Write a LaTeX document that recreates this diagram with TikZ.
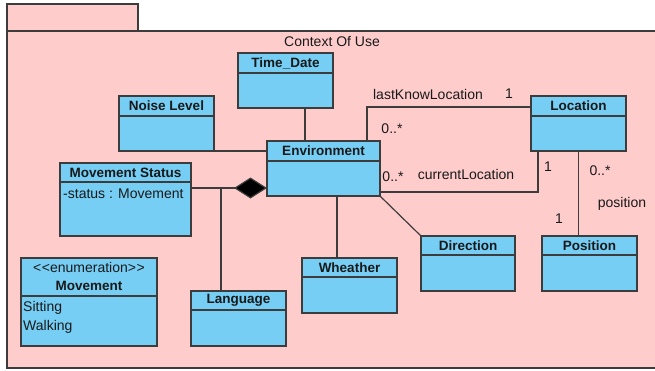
\documentclass[tikz,border=0pt]{standalone}
\usepackage{fontspec}
\setmainfont{Liberation Sans}
\usetikzlibrary{arrows.meta,calc}
\definecolor{pkgpink}{RGB}{255,204,204}
\definecolor{clsblue}{RGB}{118,206,245}
\definecolor{linegray}{RGB}{60,60,60}
\definecolor{txt}{RGB}{25,25,25}
\tikzset{
  pkgbox/.style={draw=linegray, line width=1.2pt, fill=pkgpink, inner sep=0pt, outer sep=0pt, anchor=north west},
  classbox/.style={draw=linegray, line width=1.2pt, fill=clsblue, inner sep=0pt, outer sep=0pt, anchor=north west},
  sepline/.style={draw=linegray, line width=1.2pt},
  ctitle/.style={font=\fontsize{13.5}{15}\selectfont\bfseries, text=txt, inner sep=0pt},
  ctext/.style={font=\fontsize{14}{16}\selectfont, text=txt, inner sep=0pt},
  conn/.style={draw=linegray, line width=1.2pt},
  lbl/.style={font=\fontsize{14}{16}\selectfont, text=txt, inner sep=0pt},
}
\newcommand\umlclass[7]{%
  \node[classbox, minimum width=#4pt, minimum height=#5pt] (#1) at (#2,#3) {};
  \draw[sepline] ($(#1.north west)+(0,#6)$) -- ($(#1.north east)+(0,#6)$);
  \node[ctitle] (#1-title) at ($(#1.north)+(0,#6/2)$) {#7};
}
\begin{document}
\begin{tikzpicture}[x=1pt,y=-1pt]
\useasboundingbox (0,0) rectangle (655,370);
\clip (0,0) rectangle (655,370);
% package
\node[pkgbox, minimum width=131pt, minimum height=27pt] (pkgtab) at (7,4) {};
\node[pkgbox, minimum width=655pt, minimum height=337pt] (pkgbody) at (7,31) {};
\node[lbl] (pkgname) at (332,41) {Context Of Use};
% classes
\umlclass{TD}{238}{53}{95}{55}{20}{Time\_Date}
\umlclass{NL}{119}{96}{95}{55}{20}{Noise Level}
\umlclass{Env}{267}{141}{113}{55}{20}{Environment}
\umlclass{MS}{60}{163}{131}{73}{19}{Movement Status}
\node[ctext, anchor=west] (MS-attr) at (63,194) {-status : Movement};
\umlclass{Lang}{191}{291}{95}{55}{19}{Language}
\umlclass{Wh}{302}{258}{95}{55}{19}{Wheather}
\umlclass{Dir}{421}{236}{94}{55}{19}{Direction}
\umlclass{Loc}{531}{96}{95}{55}{20}{Location}
\umlclass{Pos}{542}{236}{95}{55}{19}{Position}
% enumeration
\node[classbox, minimum width=136pt, minimum height=88pt] (Mv) at (21,258) {};
\draw[sepline] ($(Mv.north west)+(0,38)$) -- ($(Mv.north east)+(0,38)$);
\node[ctext] (Mv-st) at ($(Mv.north)+(0,9)$) {<\kern0.5pt<enumeration>\kern0.5pt>};
\node[ctitle] (Mv-title) at ($(Mv.north)+(0,28)$) {Movement};
\node[ctext, anchor=west] (Mv-a1) at (23,308) {Sitting};
\node[ctext, anchor=west] (Mv-a2) at (23,327) {Walking};
% connectors
\draw[conn] (NL.south east) -- (NL.south east -| Env.west);
\coordinate (tdbot) at ($(TD.south west)+(67,0)$);
\draw[conn] (tdbot) -- (tdbot |- Env.north);
\coordinate (cmpE) at ($(Env.south west)+(0,-8)$);
\draw[conn, {Diamond[length=33pt,width=21pt,fill=black]}-] (cmpE) -- (cmpE -| MS.east);
\coordinate (langtop) at ($(Lang.north west)+(30,0)$);
\draw[conn] (langtop |- cmpE) -- (langtop);
\coordinate (whtop) at ($(Wh.north west)+(35,0)$);
\draw[conn] (whtop |- Env.south) -- (whtop);
\draw[conn] (Env.south east) -- (Dir.north west);
\coordinate (lkE) at ($(Env.north west)+(100,0)$);
\coordinate (lkL) at ($(Loc.north west)+(0,11)$);
\draw[conn] (lkE) |- (lkL);
\coordinate (clE) at ($(Env.south east)+(0,-4)$);
\coordinate (clL) at ($(Loc.south west)+(7,0)$);
\draw[conn] (clE) -| (clL);
\draw[conn] (Loc.south) -- (Loc.south |- Pos.north);
% labels
\node[lbl] (l-lk) at (428,94) {lastKnowLocation};
\node[lbl] (l-lk1) at (509,94) {1};
\node[lbl] (l-lkm) at (392,129) {0..*};
\node[lbl] (l-clm) at (393,177) {0..*};
\node[lbl] (l-cl) at (466,174) {currentLocation};
\node[lbl] (l-cl1) at (548,167) {1};
\node[lbl] (l-pm) at (600,171) {0..*};
\node[lbl] (l-pos) at (622,204) {position};
\node[lbl] (l-p1) at (559,219) {1};
\end{tikzpicture}
\end{document}
